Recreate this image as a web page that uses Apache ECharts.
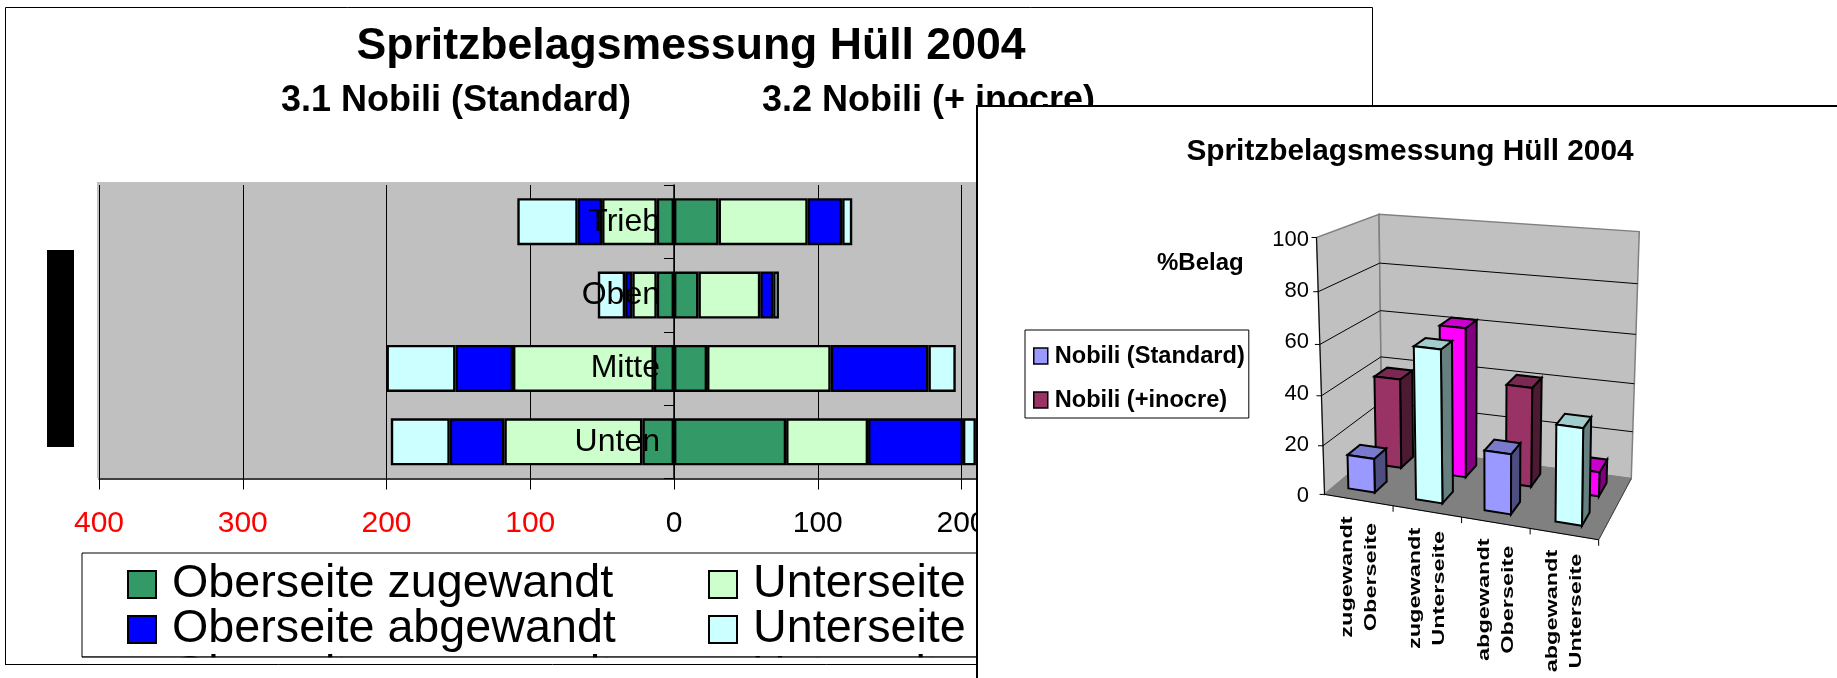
<!DOCTYPE html>
<html><head><meta charset="utf-8">
<style>html,body{margin:0;padding:0;background:#fff}#c{width:1837px;height:678px}</style>
<script src="https://cdn.jsdelivr.net/npm/echarts@6/dist/echarts.min.js"></script>
</head><body><div id="c"></div>
<script>
const categories = ['Trieb','Oben','Mitte','Unten'];
const xTicks = [-400,-300,-200,-100,0,100,200,300,400];
// 3.1 Nobili (Standard), drawn left of zero
const leftOberZu  = [-12,-12,-14,-22];
const leftUnterZu = [-38,-17,-98,-96];
const leftOberAb  = [-17,-5,-40,-38];
const leftUnterAb = [-42,-19,-48,-41];
// 3.2 Nobili (+ inocre), drawn right of zero
const rightOberZu  = [31,17,23,78];
const rightUnterZu = [62,43,86,57];
const rightOberAb  = [24,9,68,66];
const rightUnterAb = [7,4,19,9];
const names = ['Oberseite zugewandt','Unterseite zugewandt','Oberseite abgewandt','Unterseite abgewandt'];
const colors = ['#339966','#CCFFCC','#0000FF','#CCFFFF'];
// Front panel
const panelCats = ['zugewandt\nOberseite','zugewandt\nUnterseite','abgewandt\nOberseite','abgewandt\nUnterseite'];
const standardBelag = [14,61,24,38];
const inocreBelag   = [38,62,41,10];
const belagTicks = [0,20,40,60,80,100];

const FONT = '"Liberation Sans", Arial, sans-serif';
// box corners of the 3D frame, in page pixels
const z2 = (X,Y)=>[975+X/2.24,100+Y/2.713];
const A=z2(783,1070),B=z2(1397,1193),C=z2(1470,1027),D=z2(912,938),
      E=z2(765,373),F=z2(1405,450),G=z2(1488,357),H=z2(905,310);
function lerp(a,b,t){return [a[0]+(b[0]-a[0])*t,a[1]+(b[1]-a[1])*t];}
function P(u,v,h){
  const t=h/(1+0.07*(1-h));
  const b=lerp(lerp(A,B,u),lerp(D,C,u),v), c=lerp(lerp(E,F,u),lerp(H,G,u),v);
  return lerp(b,c,t);
}
function poly(pts,fill,stroke,lw){return {type:'polygon',shape:{points:pts},style:{fill:fill,stroke:stroke,lineWidth:lw}};}
function line(a,b,stroke,lw){return {type:'line',shape:{x1:a[0],y1:a[1],x2:b[0],y2:b[1]},style:{stroke:stroke,lineWidth:lw}};}
function norm(api,cs,cat,val){
  const p=api.coord([cat,val]);
  return {u:(p[0]-cs.x)/cs.width,h:(cs.y+cs.height-p[1])/cs.height};
}
function renderBox(params,api){
  const cs=params.coordSys, ch=[];
  ch.push(poly([P(0,0,0),P(0,0,1),P(0,1,1),P(0,1,0)],'#C0C0C0','#808080',1.5));
  ch.push(poly([P(0,1,0),P(0,1,1),P(1,1,1),P(1,1,0)],'#C0C0C0','#808080',1.5));
  ch.push(poly([P(0,0,0),P(1,0,0),P(1,1,0),P(0,1,0)],'#808080','#808080',1));
  belagTicks.forEach(t=>{
    const h=norm(api,cs,0,t).h;
    if(t>0&&t<100){
      ch.push(line(P(0,0,h),P(0,1,h),'#000',1));
      ch.push(line(P(0,1,h),P(1,1,h),'#000',1));
    }
    const a=P(0,0,h);
    ch.push(line([a[0]-5,a[1]],a,'#000',1));
  });
  ch.push(line(P(0,0,0),P(0,0,1),'#000',1));
  ch.push(line(P(0,0,0),P(1,0,0),'#000',1));
  ch.push(line(P(1,0,0),P(1,1,0),'#404040',1));
  panelCats.forEach((c,i)=>{
    const a=P((i+1)/4,0,0);
    ch.push(line(a,[a[0],a[1]+6],'#000',1));
    const m=P((i+0.5)/4,0,0);
    ch.push({type:'text',x:m[0],y:m[1]+77,rotation:Math.PI/2,scaleX:1.38,
      style:{text:c,font:'bold 17px '+FONT,fill:'#000',align:'center',verticalAlign:'middle',lineHeight:24}});
  });
  return {type:'group',children:ch};
}
const frontPal=[['#9999FF','#7A7ACC','#4D4D80'],['#CCFFFF','#A3CCCC','#668080']];
const backPal=[['#993366','#7A2952','#4D1A33'],['#FF00FF','#CC00CC','#800080']];
function bar(v0,v1,pal){
  return function(params,api){
    const cs=params.coordSys,i=api.value(0),n=norm(api,cs,i,api.value(1));
    const cu=n.u+0.03*Math.pow(n.u,4);
    const u0=cu-0.073,u1=cu+0.025,h=n.h,c=pal[i%2];
    return {type:'group',children:[
      poly([P(u1,v0,0),P(u1,v1,0),P(u1,v1,h),P(u1,v0,h)],c[2],'#000',2),
      poly([P(u0,v0,h),P(u1,v0,h),P(u1,v1,h),P(u0,v1,h)],c[1],'#000',2),
      poly([P(u0,v0,0),P(u1,v0,0),P(u1,v0,h),P(u0,v0,h)],c[0],'#000',2)
    ]};
  };
}
function barSeries(name,data,i){
  return {name:name,type:'bar',stack:'belag',data:data,barWidth:47,xAxisIndex:0,yAxisIndex:0,z:2,
    itemStyle:{color:colors[i],borderColor:'#000',borderWidth:2.4}};
}
const series=[
  barSeries(names[0],leftOberZu,0),barSeries(names[1],leftUnterZu,1),
  barSeries(names[2],leftOberAb,2),barSeries(names[3],leftUnterAb,3),
  barSeries(names[0],rightOberZu,0),barSeries(names[1],rightUnterZu,1),
  barSeries(names[2],rightOberAb,2),barSeries(names[3],rightUnterAb,3),
  {type:'custom',name:'Rahmen',xAxisIndex:1,yAxisIndex:1,z:21,renderItem:renderBox,data:[[0,0]],silent:true},
  {type:'custom',name:'Nobili (+inocre)',xAxisIndex:1,yAxisIndex:1,z:22,renderItem:bar(0.66,0.88,backPal),
   itemStyle:{color:'#993366'},encode:{x:0,y:1},data:inocreBelag.map((v,i)=>[i,v])},
  {type:'custom',name:'Nobili (Standard)',xAxisIndex:1,yAxisIndex:1,z:23,renderItem:bar(0.17,0.39,frontPal),
   itemStyle:{color:'#9999FF'},encode:{x:0,y:1},data:standardBelag.map((v,i)=>[i,v])}
];
const backLegend=(data,left)=>({data:data,orient:'vertical',left:left,top:561,height:110,padding:0,itemWidth:28,itemHeight:27,itemGap:-2,z:4,
  selectedMode:false,textStyle:{fontSize:46.7,fontFamily:FONT,color:'#000',padding:[0,0,0,11]},
  itemStyle:{borderColor:'#000',borderWidth:2},icon:'rect'});
const option={
  animation:false,backgroundColor:'#fff',
  title:[
    {text:'Spritzbelagsmessung Hüll 2004',left:686,top:19,textAlign:'center',z:6,textStyle:{fontFamily:FONT,fontWeight:'bold',fontSize:44.6,color:'#000'}},
    {text:'3.1 Nobili (Standard)',left:276,top:78,z:6,textStyle:{fontFamily:FONT,fontWeight:'bold',fontSize:36,color:'#000'}},
    {text:'3.2 Nobili (+ inocre)',left:757,top:78,z:6,textStyle:{fontFamily:FONT,fontWeight:'bold',fontSize:36,color:'#000'}},
    {text:'Spritzbelagsmessung Hüll 2004',left:1405,top:132,textAlign:'center',z:30,textStyle:{fontFamily:FONT,fontWeight:'bold',fontSize:29.8,color:'#000'}},
    {text:'%Belag',left:1152,top:246,z:30,textStyle:{fontFamily:FONT,fontWeight:'bold',fontSize:24,color:'#000'}}
  ],
  legend:[
    backLegend([names[0],names[2]],127),
    backLegend([names[1],names[3]],708),
    {data:['Nobili (Standard)','Nobili (+inocre)'],orient:'vertical',left:1025,top:330,padding:[14,4,6,8],itemWidth:14,itemHeight:16,itemGap:20,z:30,
     selectedMode:false,backgroundColor:'#fff',borderColor:'#000',borderWidth:1,icon:'rect',
     itemStyle:{borderColor:'#000',borderWidth:1.5},
     textStyle:{fontSize:23.6,fontWeight:'bold',fontFamily:FONT,color:'#000',padding:[0,0,0,2]}}
  ],
  grid:[
    {left:99,top:185,width:1150,height:293.5,show:false},
    {left:1316,top:240,width:280,height:256,show:false}
  ],
  xAxis:[
    {type:'value',gridIndex:0,min:xTicks[0],max:xTicks[xTicks.length-1],interval:100,position:'bottom',z:1,
     axisLine:{show:true,onZero:false,lineStyle:{color:'#000',width:1.5}},
     axisTick:{show:true,length:11,lineStyle:{color:'#000'}},
     splitLine:{show:true,lineStyle:{color:'#000',width:1}},
     axisLabel:{fontSize:30,fontFamily:FONT,margin:30,showMinLabel:true,showMaxLabel:true,
       formatter:v=>String(Math.abs(v)),color:v=>v<0?'#FF0000':'#000'}},
    {type:'category',gridIndex:1,data:panelCats,show:false}
  ],
  yAxis:[
    {type:'category',gridIndex:0,data:categories,inverse:true,z:5,position:'left',offset:-575,
     axisLine:{show:true,onZero:false,lineStyle:{color:'#000',width:1.5}},
     axisTick:{show:true,length:10,inside:false,lineStyle:{color:'#000'}},
     axisLabel:{fontSize:32,fontFamily:FONT,color:'#000',margin:14}},
    {type:'value',gridIndex:1,min:0,max:100,interval:20,z:30,
     axisLine:{show:false},axisTick:{show:false},splitLine:{show:false},
     axisLabel:{fontSize:22,fontFamily:FONT,color:'#000',margin:7}}
  ],
  graphic:{elements:[
    {type:'rect',shape:{x:5.5,y:7.5,width:1367,height:657},style:{fill:'none',stroke:'#000',lineWidth:1},z:0,silent:true},
    {type:'rect',shape:{x:97,y:182,width:1153,height:296},style:{fill:'#C0C0C0'},z:0,z2:-1,silent:true},
    {type:'rect',shape:{x:47,y:250,width:27,height:197},style:{fill:'#000'},z:1,silent:true},
    {type:'rect',shape:{x:82,y:553,width:1000,height:104},style:{fill:'#fff',stroke:'#000',lineWidth:1},z:3,silent:true},
    {type:'text',x:172,y:652,style:{text:names[0],font:'46.7px '+FONT,fill:'#000'},z:4,silent:true},
    {type:'text',x:752,y:652,style:{text:names[1],font:'46.7px '+FONT,fill:'#000'},z:4,silent:true},
    {type:'rect',shape:{x:83,y:657.5,width:1000,height:21},style:{fill:'#fff'},z:5,silent:true},
    {type:'line',shape:{x1:82,y1:657,x2:1082,y2:657},style:{stroke:'#000',lineWidth:1},z:6,silent:true},
    {type:'line',shape:{x1:5,y1:664.5,x2:1100,y2:664.5},style:{stroke:'#000',lineWidth:1},z:6,silent:true},
    {type:'rect',shape:{x:977,y:106,width:900,height:600},style:{fill:'#fff',stroke:'#000',lineWidth:2},z:20,silent:true}
  ]},
  series:series
};
const chart=echarts.init(document.getElementById('c'),null,{renderer:'canvas'});
chart.setOption(option);
</script></body></html>
